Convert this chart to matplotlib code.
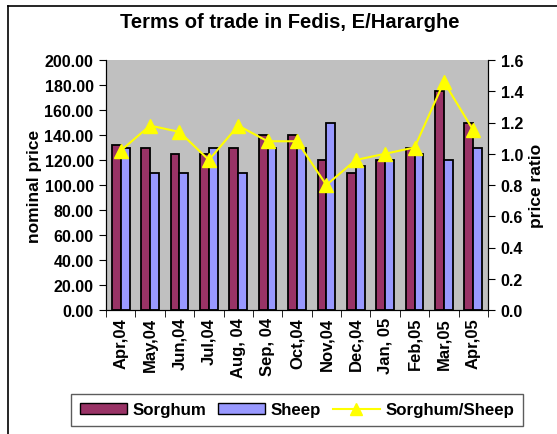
import numpy as np
import matplotlib.pyplot as plt
from matplotlib.lines import Line2D

plt.rcParams['font.family'] = ['Liberation Sans', 'DejaVu Sans']
plt.rcParams['font.weight'] = 'bold'

# Daten
months = ["Apr,04", "May,04", "Jun,04", "Jul,04", "Aug, 04", "Sep, 04", "Oct,04",
          "Nov,04", "Dec,04", "Jan, 05", "Feb,05", "Mar,05", "Apr,05"]
sorghum = [132, 130, 125, 125, 130, 140, 140, 120, 110, 120, 130, 175, 150]
sheep = [130, 110, 110, 130, 110, 130, 130, 150, 115, 120, 125, 120, 130]
ratio = [1.02, 1.18, 1.14, 0.96, 1.18, 1.08, 1.08, 0.80, 0.96, 1.00, 1.04, 1.46, 1.15]

W, H = 557, 435
fig = plt.figure(figsize=(W / 100, H / 100), dpi=100)
ax = fig.add_axes([106 / W, 1 - 311 / H, 382 / W, 250 / H])
ax.set_facecolor("#C0C0C0")

x = np.arange(len(months))
w = 0.3
ax.bar(x - w / 2, sorghum, w, color="#993366", edgecolor="black", linewidth=1.3)
ax.bar(x + w / 2, sheep, w, color="#9999FF", edgecolor="black", linewidth=1.3)

ax.set_xlim(-0.5, len(months) - 0.5)
ax.set_ylim(0, 200)
yt = np.arange(0, 201, 20)
ax.set_yticks(yt)
ax.set_yticklabels([f"{v:.2f}" for v in yt], fontsize=11.5, fontweight="bold")
ax.set_xticks(x)
ax.set_xticklabels(months, rotation=90, fontsize=12, fontweight="bold")
ax.tick_params(axis="x", length=0, pad=5)
ax.set_xticks(np.arange(-0.5, len(months)), minor=True)
ax.tick_params(axis="x", which="minor", length=5, direction="out")
ax.tick_params(axis="y", length=5, direction="out", pad=4)
ax.set_ylabel("nominal price", fontsize=12.5, fontweight="bold", labelpad=2)
ax.spines["top"].set_visible(False)

ax2 = ax.twinx()
ax2.plot(x, ratio, color="#FFFF00", marker="^", markersize=10, linewidth=1.5)
ax2.set_ylim(0, 1.6)
rt = np.arange(0, 1.61, 0.2)
ax2.set_yticks(rt)
ax2.set_yticklabels([f"{v:.1f}" for v in rt], fontsize=11.5, fontweight="bold")
ax2.tick_params(axis="y", length=5, direction="out", pad=4)
ax2.set_ylabel("price ratio", fontsize=12.5, fontweight="bold", labelpad=4)
ax2.spines["top"].set_visible(False)

fig.text(290 / W, 1 - 22 / H, "Terms of trade in Fedis, E/Hararghe", ha="center", va="center",
         fontsize=14.5, fontweight="bold")

handles = [plt.Rectangle((0, 0), 1, 1, facecolor="#993366", edgecolor="black"),
           plt.Rectangle((0, 0), 1, 1, facecolor="#9999FF", edgecolor="black"),
           Line2D([], [], color="#FFFF00", marker="^", markersize=9)]
leg = fig.legend(handles, ["Sorghum", "Sheep", "Sorghum/Sheep"], loc="center",
                 bbox_to_anchor=(297 / W, 1 - 411 / H), ncol=3, frameon=True,
                 fancybox=False, edgecolor="#333333", fontsize=12.2, handlelength=2.8,
                 handleheight=0.6, columnspacing=0.7, handletextpad=0.3, borderpad=0.5)
leg.get_frame().set_linewidth(1.0)

# Rahmen oben und links
fig.add_artist(Line2D([8 / W, 1], [1 - 7 / H, 1 - 7 / H], transform=fig.transFigure,
                      color="black", linewidth=1.2))
fig.add_artist(Line2D([8 / W, 8 / W], [0, 1 - 7 / H], transform=fig.transFigure,
                      color="black", linewidth=1.2))

fig.savefig("out.png", dpi=100)
